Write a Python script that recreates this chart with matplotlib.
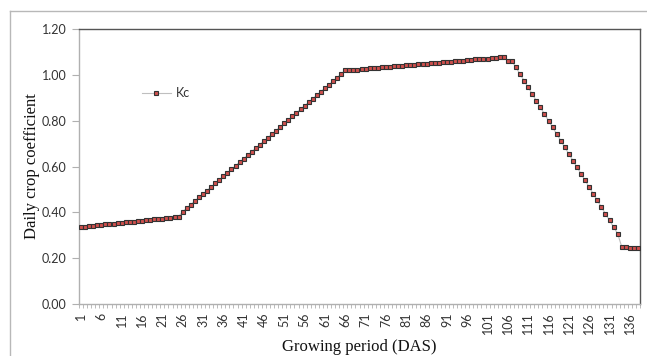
import matplotlib
matplotlib.use("Agg")
import matplotlib.pyplot as plt
from matplotlib.lines import Line2D
import numpy as np

days = list(range(1, 139))
kc = [
    # 1-25
    0.335, 0.337, 0.339, 0.341, 0.343, 0.345, 0.347, 0.349, 0.351, 0.352,
    0.354, 0.356, 0.358, 0.360, 0.362, 0.364, 0.366, 0.368, 0.370, 0.372,
    0.373, 0.375, 0.377, 0.379, 0.381,
    # 26-66
    0.403, 0.418, 0.434, 0.449, 0.465, 0.480, 0.495, 0.511, 0.526, 0.542,
    0.557, 0.572, 0.588, 0.603, 0.619, 0.634, 0.649, 0.665, 0.680, 0.696,
    0.711, 0.726, 0.742, 0.757, 0.773, 0.788, 0.803, 0.819, 0.834, 0.850,
    0.865, 0.880, 0.896, 0.911, 0.927, 0.942, 0.957, 0.973, 0.988, 1.004,
    1.019,
    # 67-105
    1.020, 1.022, 1.023, 1.025, 1.026, 1.028, 1.029, 1.031, 1.032, 1.034,
    1.035, 1.037, 1.038, 1.040, 1.041, 1.043, 1.044, 1.046, 1.047, 1.049,
    1.050, 1.052, 1.053, 1.055, 1.056, 1.058, 1.059, 1.061, 1.062, 1.064,
    1.065, 1.067, 1.068, 1.070, 1.071, 1.073, 1.074, 1.076, 1.077,
    # 106-107
    1.062, 1.060,
    # 108-133
    1.032, 1.003, 0.974, 0.945, 0.916, 0.887, 0.858, 0.829, 0.800, 0.771,
    0.742, 0.713, 0.684, 0.655, 0.626, 0.597, 0.568, 0.539, 0.510, 0.481,
    0.452, 0.423, 0.394, 0.365, 0.336, 0.307,
    # 134-138
    0.250, 0.250, 0.245, 0.245, 0.245,
]
xtick_labels = [str(d) for d in range(1, 137, 5)]
yticks = [0.0, 0.2, 0.4, 0.6, 0.8, 1.0, 1.2]

W, H = 647, 356
fig = plt.figure(figsize=(W / 100, H / 100), dpi=100)
ax = fig.add_axes([79 / W, 1 - 304 / H, (640 - 79) / W, (304 - 29) / H])

tickfont = "Lato"
ax.plot(days, kc, color="#bfbfbf", lw=0.8, marker="s", markersize=3.4,
        markerfacecolor="#d0504d", markeredgecolor="#333333",
        markeredgewidth=0.8, label="Kc", zorder=3)

ax.set_xlim(0.5, len(days) + 0.5)
ax.set_ylim(0, 1.2)
ax.set_yticks(yticks)
ax.set_yticklabels([f"{v:.2f}" for v in yticks], fontfamily=tickfont,
                   fontsize=9, color="#333333")
ax.set_xticks([int(s) for s in xtick_labels])
ax.set_xticklabels(xtick_labels, rotation=90, fontfamily=tickfont,
                   fontsize=9, color="#333333")
ax.set_xticks(np.arange(0.5, len(days) + 1, 1.0), minor=True)
ax.tick_params(axis="x", which="major", length=0, pad=6)
ax.tick_params(axis="x", which="minor", length=3, width=0.6, color="#b0b0b0",
               direction="out")
ax.tick_params(axis="y", length=5, width=0.8, color="#b0b0b0", pad=4)

for s in ["left", "bottom"]:
    ax.spines[s].set_color("#b0b0b0")
    ax.spines[s].set_linewidth(1.0)
for s in ["top", "right"]:
    ax.spines[s].set_color("#555555")
    ax.spines[s].set_linewidth(1.0)

ax.set_ylabel("Daily crop coefficient", fontfamily="Liberation Serif",
              fontsize=12, color="#111111", labelpad=1)
ax.set_xlabel("Growing period (DAS)", fontfamily="Liberation Serif",
              fontsize=12, color="#111111", labelpad=3.5)

leg = ax.legend(loc="upper left", bbox_to_anchor=(58 / (640 - 79), 1 - (82 - 29) / (304 - 29)),
                frameon=False, prop={"family": tickfont, "size": 9},
                handlelength=2.3, handletextpad=0.4, borderaxespad=0)
for t in leg.get_texts():
    t.set_color("#333333")

# outer chart frame (partially visible)
fig.add_artist(Line2D([10 / W, 10 / W], [0, 1 - 11 / H], color="#b8b8b8", lw=1.0,
                      transform=fig.transFigure))
fig.add_artist(Line2D([10 / W, 1], [1 - 11 / H, 1 - 11 / H], color="#b8b8b8", lw=1.0,
                      transform=fig.transFigure))

fig.savefig("out.png", dpi=100)
